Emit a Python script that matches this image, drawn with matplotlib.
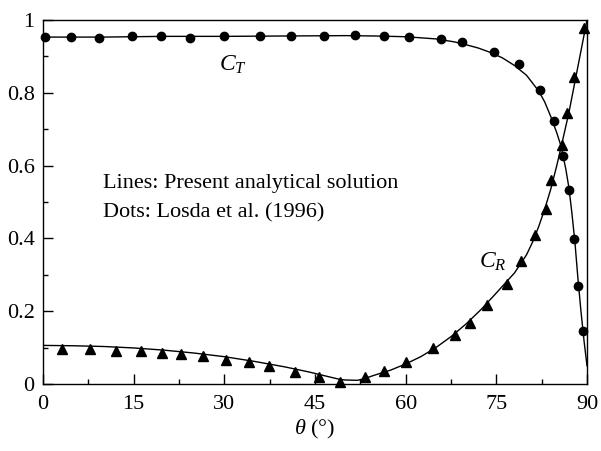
import matplotlib.pyplot as plt
from matplotlib.ticker import MultipleLocator

plt.rcParams['font.family'] = ['Liberation Serif', 'DejaVu Serif']
plt.rcParams['mathtext.fontset'] = 'custom'
plt.rcParams['mathtext.rm'] = 'Liberation Serif'
plt.rcParams['mathtext.it'] = 'Liberation Serif:italic'

# analytical solution (lines)
theta_ct_line = [0, 10, 20, 30, 40, 50, 55, 60, 65, 68, 70, 72, 74, 76, 78, 80,
                 82, 83, 84, 85, 85.7, 86.5, 87, 87.5, 88, 88.5, 89, 89.5, 90]
ct_line = [0.953, 0.953, 0.955, 0.955, 0.956, 0.957, 0.956, 0.954, 0.948, 0.940,
           0.932, 0.923, 0.911, 0.896, 0.875, 0.848, 0.805, 0.775, 0.735, 0.69,
           0.654, 0.59, 0.54, 0.47, 0.39, 0.29, 0.20, 0.12, 0.05]

theta_cr_line = [0, 5, 10, 15, 20, 25, 30, 35, 40, 44, 47, 49, 50, 52, 53, 55,
                 57.5, 60, 62.5, 65, 67.5, 70, 72.5, 75, 78, 80, 81, 82, 83, 84,
                 85, 85.8, 87, 88, 89, 90]
cr_line = [0.106, 0.105, 0.103, 0.099, 0.093, 0.085, 0.075, 0.062, 0.047, 0.033,
           0.021, 0.013, 0.011, 0.010, 0.014, 0.025, 0.038, 0.055, 0.075, 0.100,
           0.130, 0.165, 0.205, 0.25, 0.305, 0.355, 0.39, 0.432, 0.48, 0.535,
           0.60, 0.657, 0.745, 0.83, 0.915, 1.0]

# Losda et al. (1996) data (dots)
theta_ct_dots = [0.3, 4.6, 9.2, 14.7, 19.5, 24.3, 30.0, 35.9, 41.1, 46.5, 51.7,
                 56.5, 60.6, 65.8, 69.4, 74.6, 78.8, 82.3, 84.6, 86.0, 87.0,
                 87.8, 88.5, 89.3]
ct_dots = [0.952, 0.952, 0.951, 0.955, 0.955, 0.951, 0.955, 0.955, 0.956, 0.957,
           0.958, 0.956, 0.954, 0.949, 0.939, 0.912, 0.878, 0.807, 0.722, 0.626,
           0.533, 0.398, 0.27, 0.146]

theta_cr_dots = [3.1, 7.7, 12.1, 16.2, 19.7, 22.8, 26.4, 30.3, 34.1, 37.4, 41.7,
                 45.7, 49.1, 53.2, 56.4, 60.0, 64.6, 68.1, 70.6, 73.4, 76.8,
                 79.1, 81.4, 83.2, 84.1, 85.8, 86.7, 87.9, 89.5]
cr_dots = [0.097, 0.097, 0.091, 0.091, 0.085, 0.082, 0.076, 0.065, 0.060, 0.049,
           0.034, 0.018, 0.005, 0.020, 0.037, 0.060, 0.098, 0.135, 0.167, 0.217,
           0.274, 0.339, 0.410, 0.48, 0.56, 0.657, 0.744, 0.844, 0.977]

fig = plt.figure(figsize=(6.01, 4.51), dpi=100)
ax = fig.add_axes([0.0715, 0.1486, 0.9052, 0.8071])

ax.plot(theta_ct_line, ct_line, color='black', lw=1.0)
ax.plot(theta_cr_line, cr_line, color='black', lw=1.0)
ax.plot(theta_ct_dots, ct_dots, 'o', color='black', ms=6, clip_on=False)
ax.plot(theta_cr_dots, cr_dots, '^', color='black', ms=7, clip_on=False)

ax.text(31.4, 0.876, r'$C_T$', fontsize=17, ha='center', va='center')
ax.text(74.4, 0.335, r'$C_R$', fontsize=17, ha='center', va='center')
ax.text(9.9, 0.552, 'Lines: Present analytical solution', fontsize=16, va='center')
ax.text(9.9, 0.47, 'Dots: Losda et al. (1996)', fontsize=16, va='center')

ax.set_xlim(0, 90)
ax.set_ylim(0, 1)
ax.xaxis.set_major_locator(MultipleLocator(15))
ax.xaxis.set_minor_locator(MultipleLocator(7.5))
ax.yaxis.set_major_locator(MultipleLocator(0.2))
ax.yaxis.set_minor_locator(MultipleLocator(0.1))
ax.set_yticks([0, 0.2, 0.4, 0.6, 0.8, 1.0])
ax.set_yticklabels(['0', '0.2', '0.4', '0.6', '0.8', '1'])
ax.tick_params(which='both', direction='in', labelsize=16, top=False, right=False)
ax.tick_params(which='major', length=7, width=1)
ax.tick_params(which='minor', length=3.5, width=1)
ax.tick_params(axis='x', pad=8)
ax.tick_params(axis='y', pad=6)
ax.set_xlabel(r'$\theta$ (°)', fontsize=16, labelpad=3)
for s in ax.spines.values():
    s.set_linewidth(1)

fig.savefig('out.png', dpi=100)
